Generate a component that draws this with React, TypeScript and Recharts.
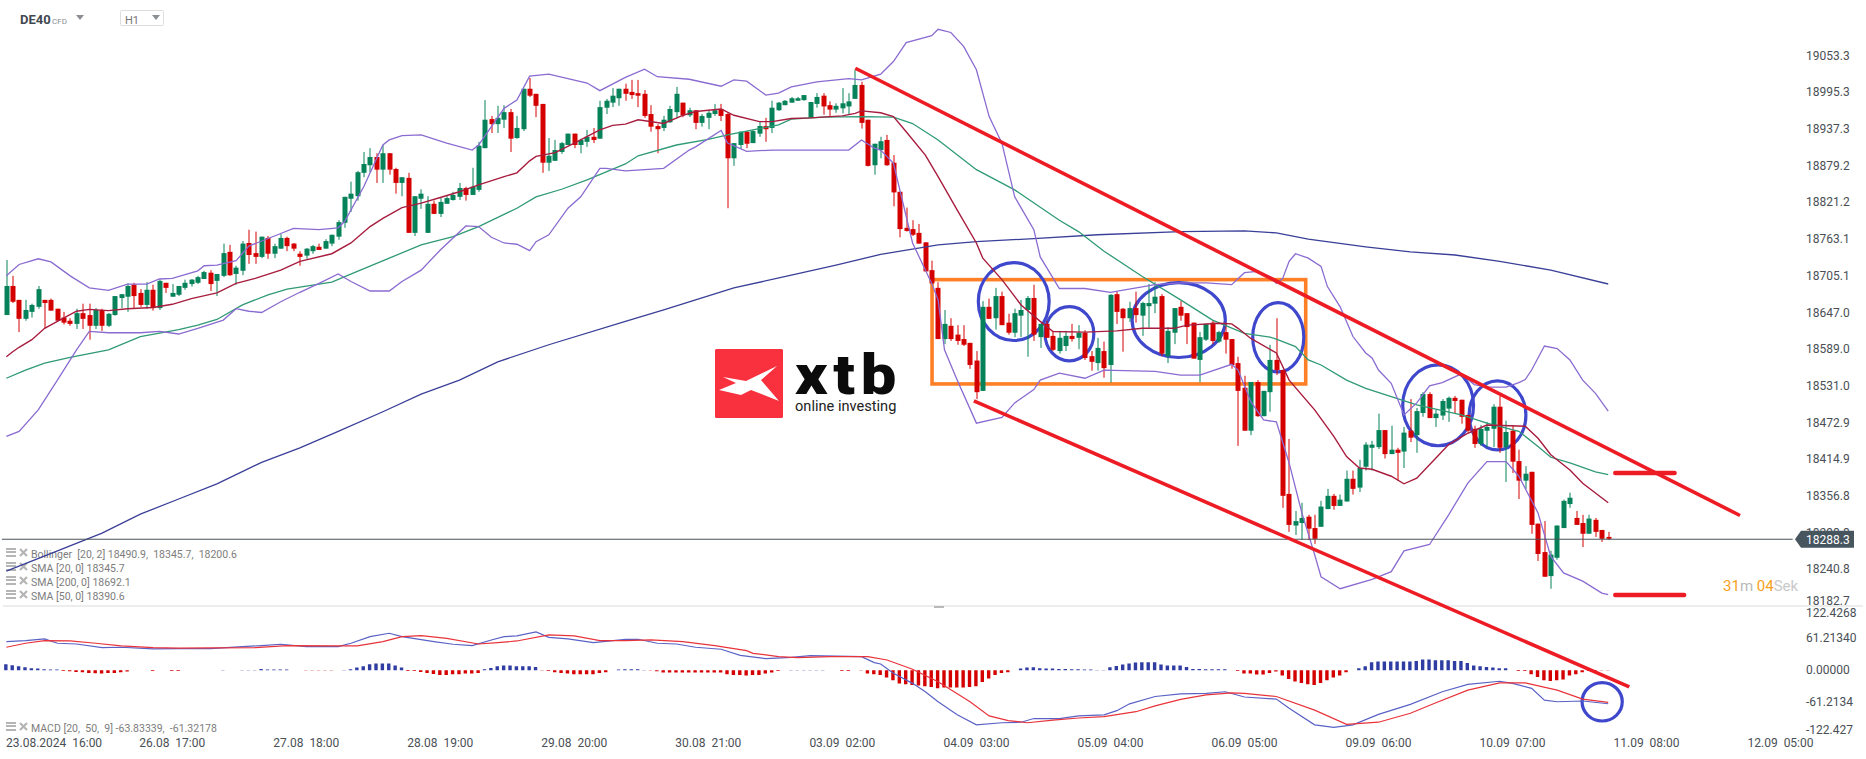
import React from "react";
import {
  ComposedChart,
  Bar,
  Line,
  Cell,
  XAxis,
  YAxis,
  ReferenceLine,
  ReferenceArea,
} from "recharts";

// H1 candles, one value per bar
const opens = [
  18643,18689,18667,18637,18648,18656,18667,18667,18653,18639,18634,18629,18646,18643,18626,18651,18626,18643,18670,18672,
  18691,18678,18659,18683,18654,18694,18672,18675,18686,18692,18694,18700,18710,18697,18705,18743,18708,18713,18757,18741,
  18735,18765,18740,18748,18765,18756,18740,18737,18744,18751,18748,18756,18767,18789,18827,18831,18868,18880,18893,18873,
  18899,18874,18852,18860,18773,18827,18773,18819,18803,18819,18825,18830,18844,18833,18841,18907,18953,18945,18952,18964,
  18923,18937,19001,18993,18977,18884,18887,18901,18912,18930,18912,18917,18925,18922,18971,18979,18986,19001,18996,18994,
  18993,18961,18942,18939,18948,18964,18979,18959,18967,18947,18955,18961,18969,18961,18891,18912,18933,18915,18930,18942,
  18939,18967,18975,18979,18982,18983,18955,18977,18990,18975,18968,18970,18973,18985,19007,18952,18880,18904,18920,18884,
  18838,18781,18779,18773,18758,18714,18686,18605,18626,18612,18605,18599,18571,18523,18656,18638,18673,18631,18615,18642,
  18651,18670,18608,18629,18610,18586,18594,18610,18607,18615,18578,18567,18586,18564,18676,18653,18638,18654,18642,18657,
  18661,18673,18578,18615,18656,18646,18631,18572,18604,18631,18601,18616,18605,18567,18528,18460,18537,18483,18521,18572,
  18556,18360,18310,18314,18324,18306,18308,18336,18357,18341,18348,18384,18370,18403,18433,18434,18461,18423,18430,18427,
  18460,18453,18488,18518,18480,18484,18495,18512,18509,18485,18463,18439,18460,18463,18498,18434,18460,18412,18381,18395,
  18313,18268,18230,18259,18306,18344,18322,18314,18297,18319,18303,18292,
];
const highs = [
  18730,18705,18667,18667,18661,18689,18667,18669,18653,18648,18638,18653,18661,18661,18654,18653,18646,18673,18676,18693,
  18694,18684,18695,18691,18699,18694,18692,18689,18699,18700,18705,18713,18714,18708,18756,18754,18721,18760,18778,18775,
  18767,18768,18756,18771,18767,18757,18744,18749,18754,18756,18763,18770,18793,18830,18854,18871,18901,18907,18899,18912,
  18899,18876,18861,18868,18831,18842,18831,18824,18828,18831,18838,18852,18846,18876,18917,18983,18958,18974,18975,18969,
  18958,19001,19018,18993,18977,18923,18920,18917,18930,18930,18922,18936,18939,18982,18985,19002,19001,19009,19015,19015,
  18999,18975,18945,18958,18974,19004,18979,18971,18967,18961,18966,18977,18977,18964,18915,18933,18934,18936,18950,18955,
  18982,18980,18983,18988,18988,18991,18980,18994,18994,18981,18978,19002,18994,19031,19012,18952,18914,18925,18928,18896,
  18838,18813,18793,18787,18758,18729,18695,18651,18638,18627,18627,18599,18586,18665,18669,18686,18680,18645,18653,18667,
  18673,18691,18629,18634,18618,18618,18618,18629,18627,18619,18586,18607,18601,18676,18680,18654,18664,18680,18664,18692,
  18695,18676,18624,18654,18665,18646,18631,18616,18629,18634,18618,18631,18605,18577,18547,18537,18540,18523,18596,18638,
  18556,18447,18333,18346,18327,18327,18349,18368,18360,18359,18397,18397,18414,18442,18444,18487,18461,18468,18433,18466,
  18510,18496,18521,18521,18493,18510,18514,18515,18509,18485,18468,18469,18474,18502,18515,18476,18468,18430,18404,18395,
  18313,18317,18270,18310,18351,18362,18333,18327,18327,18322,18303,18300,
];
const lows = [
  18643,18662,18616,18634,18639,18653,18622,18650,18634,18628,18626,18621,18621,18604,18621,18618,18624,18642,18654,18648,
  18653,18656,18653,18650,18651,18678,18672,18673,18683,18688,18692,18700,18681,18673,18703,18705,18691,18706,18724,18724,
  18733,18732,18733,18748,18744,18744,18721,18732,18740,18746,18748,18752,18762,18781,18806,18824,18861,18869,18852,18852,
  18865,18835,18831,18773,18768,18811,18773,18803,18798,18819,18824,18825,18824,18833,18838,18907,18931,18931,18939,18901,
  18922,18934,18988,18956,18868,18871,18887,18898,18912,18907,18899,18909,18915,18922,18961,18972,18974,18982,18985,18972,
  18955,18933,18899,18934,18947,18955,18956,18956,18937,18941,18937,18958,18950,18812,18879,18906,18907,18915,18925,18917,
  18931,18966,18975,18979,18982,18982,18955,18971,18960,18958,18963,18962,18960,18985,18938,18878,18865,18891,18879,18815,
  18766,18775,18768,18756,18712,18692,18605,18597,18602,18596,18594,18558,18510,18523,18637,18620,18627,18612,18608,18608,
  18577,18602,18591,18607,18586,18582,18586,18601,18589,18572,18555,18555,18544,18536,18629,18585,18632,18631,18610,18623,
  18646,18578,18567,18597,18634,18597,18574,18537,18602,18597,18599,18582,18558,18436,18460,18453,18482,18483,18490,18548,
  18338,18300,18295,18287,18287,18281,18308,18336,18335,18341,18348,18359,18363,18397,18397,18431,18416,18423,18381,18401,
  18442,18425,18482,18480,18466,18477,18474,18488,18471,18458,18433,18436,18434,18434,18425,18379,18393,18352,18368,18297,
  18254,18229,18210,18256,18306,18338,18311,18276,18297,18292,18284,18287,
];
const closes = [
  18689,18664,18637,18651,18659,18684,18662,18650,18634,18631,18629,18646,18637,18626,18651,18626,18645,18673,18676,18689,
  18673,18659,18683,18654,18697,18686,18678,18689,18694,18699,18703,18711,18692,18708,18741,18706,18718,18756,18738,18735,
  18767,18740,18752,18765,18752,18748,18735,18748,18752,18746,18760,18770,18790,18830,18835,18869,18882,18893,18873,18899,
  18873,18852,18861,18773,18831,18835,18819,18803,18822,18828,18833,18844,18833,18846,18911,18952,18945,18955,18964,18922,
  18939,19001,18990,18974,18884,18895,18904,18915,18930,18912,18920,18925,18920,18972,18982,18990,19001,18993,18991,18990,
  18958,18941,18937,18952,18969,18993,18959,18967,18947,18958,18963,18967,18958,18891,18915,18933,18914,18934,18942,18937,
  18971,18979,18982,18986,18986,18991,18980,18988,18973,18968,18974,18978,18981,19007,18947,18879,18914,18918,18880,18837,
  18779,18776,18770,18756,18712,18693,18605,18629,18605,18602,18596,18564,18521,18656,18637,18673,18627,18615,18646,18651,
  18670,18612,18629,18607,18588,18607,18610,18605,18615,18575,18569,18591,18559,18675,18648,18638,18654,18643,18662,18662,
  18672,18582,18618,18654,18642,18624,18574,18608,18629,18602,18616,18604,18564,18523,18460,18537,18483,18523,18572,18556,
  18357,18311,18317,18322,18305,18289,18340,18357,18341,18351,18384,18368,18401,18438,18438,18461,18423,18430,18425,18457,
  18449,18491,18518,18480,18487,18507,18512,18507,18482,18460,18439,18463,18466,18498,18433,18458,18411,18381,18392,18311,
  18265,18229,18264,18310,18349,18354,18311,18297,18321,18300,18289,18289,
];

// [bar index, price]
const bollingerUpper = [
  [0,18705],[2,18723],[5,18732],[7,18727],[10,18705],[13,18686],[16,18682],[19,18692],[22,18692],[24,18700],[26,18701],[30,18713],
  [31,18721],[33,18722],[36,18729],[38,18752],[43,18772],[45,18780],[49,18778],[52,18781],[53,18791],[56,18846],[59,18912],[60,18920],
  [62,18927],[65,18928],[69,18915],[73,18904],[74,18912],[78,18970],[80,18983],[82,19021],[85,19024],[91,19010],[93,18998],[97,19019],
  [100,19032],[102,19020],[107,19016],[112,19005],[114,19015],[116,19013],[119,18991],[121,18994],[123,19004],[127,19012],[132,19017],
  [134,19015],[137,19024],[139,19044],[141,19074],[145,19085],[146,19095],[148,19090],[150,19068],[152,19031],[154,18957],[156,18915],
  [158,18830],[161,18778],[162,18735],[165,18685],[169,18685],[173,18679],[180,18691],[184,18694],[188,18694],[192,18691],[194,18710],
  [196,18712],[198,18704],[199,18693],[200,18701],[201,18728],[202,18740],[204,18733],[206,18720],[207,18688],[209,18656],[211,18609],
  [213,18583],[214,18575],[215,18556],[217,18535],[219,18485],[221,18504],[223,18531],[225,18536],[228,18550],[230,18533],[232,18529],
  [235,18529],[237,18536],[238,18541],[239,18556],[241,18594],[243,18590],[245,18572],[247,18540],[249,18519],[251,18491],
];
const bollingerLower = [
  [0,18451],[2,18459],[5,18493],[8,18540],[11,18588],[13,18617],[16,18615],[21,18615],[24,18617],[27,18613],[30,18622],[34,18635],
  [36,18653],[38,18649],[40,18647],[43,18664],[46,18679],[49,18693],[52,18708],[54,18696],[57,18681],[60,18681],[62,18696],[65,18714],
  [68,18746],[72,18784],[74,18783],[76,18766],[78,18757],[80,18755],[82,18745],[83,18759],[85,18770],[88,18812],[90,18830],[93,18875],
  [94,18875],[97,18871],[103,18875],[107,18904],[108,18909],[112,18935],[113,18915],[116,18902],[120,18904],[132,18904],[134,18920],
  [136,18907],[137,18904],[139,18883],[140,18841],[142,18757],[145,18693],[146,18667],[147,18588],[149,18540],[152,18472],[156,18481],
  [158,18504],[161,18525],[162,18540],[165,18551],[169,18543],[172,18556],[180,18554],[184,18548],[187,18548],[192,18565],[193,18556],
  [195,18506],[197,18477],[199,18474],[201,18409],[203,18330],[205,18264],[206,18229],[209,18210],[214,18225],[217,18237],[219,18270],
  [223,18280],[226,18327],[229,18377],[232,18411],[235,18411],[237,18388],[240,18330],[242,18261],[244,18235],[247,18222],[250,18203],
  [251,18200.6],
];
const sma20 = [
  [0,18577],[1,18585],[2,18592],[4,18604],[6,18622],[8,18633],[11,18649],[13,18652],[16,18650],[19,18653],[23,18655],[26,18660],
  [29,18669],[33,18678],[36,18693],[39,18701],[43,18714],[46,18728],[51,18740],[54,18757],[57,18783],[59,18796],[62,18813],[65,18820],
  [68,18829],[71,18838],[74,18849],[78,18862],[80,18868],[82,18887],[83,18894],[86,18900],[89,18915],[93,18936],[95,18943],[97,18945],
  [99,18952],[103,18946],[106,18959],[108,18965],[112,18969],[114,18959],[118,18949],[120,18949],[123,18954],[126,18955],[131,18958],
  [133,18962],[134,18966],[137,18963],[139,18957],[141,18933],[144,18896],[146,18862],[149,18809],[152,18757],[153,18733],[156,18699],
  [159,18659],[162,18633],[164,18617],[169,18616],[174,18618],[178,18622],[183,18622],[185,18627],[190,18630],[192,18629],[193,18622],
  [195,18606],[199,18583],[201,18540],[205,18493],[208,18451],[210,18419],[212,18401],[214,18399],[217,18388],[219,18376],[221,18385],
  [224,18417],[226,18438],[229,18456],[232,18469],[238,18467],[240,18448],[242,18422],[245,18398],[247,18377],[251,18346],
];
const sma50 = [
  [0,18543],[3,18556],[6,18567],[10,18576],[16,18588],[21,18609],[27,18620],[30,18627],[33,18636],[37,18659],[41,18675],[44,18684],
  [51,18695],[55,18712],[60,18733],[65,18754],[70,18767],[74,18783],[80,18812],[83,18830],[87,18842],[91,18857],[97,18882],[99,18895],
  [105,18912],[110,18921],[113,18928],[117,18936],[121,18944],[123,18953],[128,18956],[134,18957],[139,18956],[142,18946],[146,18920],
  [152,18873],[158,18841],[165,18793],[168,18775],[172,18744],[178,18704],[184,18667],[189,18635],[194,18614],[198,18608],[199,18605],
  [202,18593],[204,18572],[206,18564],[210,18540],[213,18527],[217,18514],[221,18501],[228,18485],[232,18472],[237,18459],[240,18435],
  [242,18418],[245,18409],[249,18395],[251,18390.6],
];
const sma200 = [
  [0,18238],[9,18274],[15,18298],[21,18328],[27,18352],[33,18376],[40,18410],[46,18433],[52,18459],[59,18490],[65,18518],[71,18540],
  [77,18569],[85,18596],[97,18633],[103,18651],[108,18667],[114,18686],[123,18706],[130,18722],[137,18739],[146,18754],[152,18759],
  [161,18764],[171,18770],[184,18775],[194,18776],[199,18773],[204,18763],[213,18751],[220,18743],[227,18738],[234,18728],[242,18714],
  [251,18692.1],
];

// MACD panel, [bar index, value]
const macdLine = [
  [0,54.6],[3,56.5],[6,59.7],[8,51.4],[11,50],[15,43],[18,43.8],[23,40.6],[27,41.2],[32,41.2],[37,45],[40,47],[43,49.5],[47,45],
  [52,45],[54,51.4],[57,64],[60,70.5],[62,64],[67,54.6],[70,49.5],[73,47],[76,57.7],[78,64],[80,65.4],[83,73],[85,62.8],[88,59.7],
  [92,52.6],[97,59],[99,59],[102,51.4],[105,50],[108,43.8],[112,40],[115,28.5],[119,22],[123,24.7],[126,27.9],[134,26],[136,14.5],
  [137,12],[139,-5.8],[142,-25],[144,-41],[146,-60],[149,-85],[152,-104],[156,-100],[159,-99],[161,-92],[165,-92],[168,-87],[172,-85],
  [174,-77],[176,-64],[180,-50],[184,-45],[188,-44],[191,-41],[194,-51],[199,-55],[201,-72.6],[205,-104],[208,-109],[211,-104],[215,-84],
  [220,-65],[225,-41],[229,-27],[234,-21],[236,-25],[239,-34.4],[241,-57],[243,-60],[247,-58.6],[251,-63.8],
];
const macdSignal = [
  [0,43.8],[3,51.4],[6,56.5],[10,55.8],[14,51.4],[18,46.3],[23,43],[27,42],[32,42.5],[39,43],[44,47],[52,46.3],[55,46.3],[59,54.6],
  [62,64],[65,66],[69,60.9],[74,50],[77,52.6],[80,55.8],[85,67.3],[89,65.4],[93,56.5],[97,56.5],[101,57.7],[106,54.6],[111,47],[116,37.4],
  [117,32.3],[121,26],[124,24],[129,26],[135,26],[138,19.6],[142,1.8],[146,-22],[151,-60],[154,-87],[157,-96],[160,-100],[164,-95],
  [168,-91],[172,-88.4],[177,-79],[180,-68],[184,-55.4],[188,-47],[192,-43],[194,-44],[199,-50],[205,-76],[210,-103],[215,-99],[220,-82],
  [224,-62],[229,-38],[234,-24],[238,-24],[243,-38],[247,-55],[251,-61.3],
];
const macdHist = [
  11.4,9.5,7.6,5.7,3.8,3.2,1.9,1.3,1.3,-1.3,-1.9,-3.2,-3.8,-5.1,-5.7,-6.4,-5.1,-5.1,-3.8,-2.5,
  0,0,0,-1.3,0,0,-1.3,-1.3,0,0,0,0,0,0,0.6,0,0,0.6,0.6,0.6,
  2.5,1.3,1.3,1.3,1.3,0,0,-0.6,-0.6,-0.6,-0.6,-0.6,0,0.6,1.9,5.1,7.6,11.4,12.7,12.7,
  12.7,8.9,5.1,-1.3,-1.3,-3.2,-5.1,-7,-8.9,-8.9,-7.6,-7.6,-6.4,-6.4,-5.1,1.9,4.4,7.6,8.9,8.9,
  7.6,7.6,7.6,6.4,-0.6,-1.3,-3.8,-5.1,-6.4,-7.6,-7.6,-7.6,-7.6,-5.1,-3.8,0,1.3,1.9,1.9,1.9,
  0.6,-0.6,-1.9,-4.4,-4.4,-4.4,-4.4,-4.4,-4.4,-4.4,-4.4,-4.4,-4.4,-7.6,-8.9,-8.9,-10.2,-8.9,-8.9,-6.4,
  -4.4,-1.3,0,0.6,0.6,0.6,0.6,0.6,0.6,0,0,-1.3,-1.3,0,-0.6,-6.4,-7.6,-8.9,-14,-19.1,
  -25.4,-26.7,-28,-29.2,-30.5,-31.8,-34.3,-33,-33,-33,-33,-31.8,-30.5,-22.2,-15.9,-8.9,-5.1,-3.8,0,3.2,
  5.1,5.7,3.8,3.2,3.2,2.5,2.5,1.9,1.9,1.3,1.3,0.6,0.6,5.7,8.3,10.8,12.7,14.6,15.3,15.3,
  15.3,10.8,8.9,8.9,8.9,6.4,2.5,2.5,1.9,1.9,1.9,1.9,0,-1.3,-6.4,-6.4,-8.3,-8.3,-5.1,-2.5,
  -10.2,-16.5,-21.6,-24.2,-26.7,-28,-24.2,-19.1,-14,-10.2,-3.8,0,3.8,7.6,15.3,16.5,16.5,16.5,16.5,16.5,
  16.5,17.8,20.3,20.3,19.1,19.1,19.1,17.8,17.8,14,8.9,7.6,6.4,5.1,3.8,3.8,0,-1.3,-1.3,-7.6,
  -12.7,-19.1,-20.3,-19.1,-17.8,-10.2,-7.6,-3.8,-1.3,-1.3,-0.6,-0.6,
];

const priceTicks = [19053.3,18995.3,18937.3,18879.2,18821.2,18763.1,18705.1,18647.0,18589.0,18531.0,18472.9,18414.9,18356.8,18298.8,18240.8,18182.7];
const lastPrice = 18288.3;
const macdTicks = [122.4268,61.2134,0,-61.2134,-122.427];
const macdTickLabels = ["122.4268","61.21340","0.00000","-61.2134","-122.427"];
const timeTicks = [5,26,47,68,89,110,131,152,173,194,215,236,257,278];
const timeLabels = [
  "23.08.2024\u00a0\u00a016:00","26.08\u00a0\u00a017:00","27.08\u00a0\u00a018:00","28.08\u00a0\u00a019:00","29.08\u00a0\u00a020:00",
  "30.08\u00a0\u00a021:00","03.09\u00a0\u00a002:00","04.09\u00a0\u00a003:00","05.09\u00a0\u00a004:00","06.09\u00a0\u00a005:00",
  "09.09\u00a0\u00a006:00","10.09\u00a0\u00a007:00","11.09\u00a0\u00a008:00","12.09\u00a0\u00a005:00",
];
const legendRows = [
  "Bollinger\u00a0\u00a0[20,\u00a02] 18490.9,\u00a0\u00a018345.7,\u00a0\u00a018200.6",
  "SMA [20,\u00a00] 18345.7",
  "SMA [200,\u00a00] 18692.1",
  "SMA [50,\u00a00] 18390.6",
];

// drawings on the chart, in bar index / price
const trendLines = [
  [133.03,19033.4,271.65,18325.9],
  [151.6,18507.3,254.3,18054.6],
];
const levelLines = [
  [252.1,261.4,18393],
  [252.1,262.9,18200],
];
const priceBox = [145.05,203.6,18699,18534];
const priceEllipses = [
  [152.3,163.4,18726,18602.7],
  [162.75,170.4,18656.4,18570.6],
  [176.4,191,18694.4,18575.8],
  [195.3,203.3,18662.7,18553],
  [218.8,229.9,18564.2,18436.2],
  [229.2,238.1,18538.9,18429.8],
];
const macdEllipse = [246.9,253.2,-23.6,-96.7];

const WIDTH = 1866;
const HEIGHT = 759;
const PANEL_TOP = 606;
const MACD_PLOT = 128.5;
const FONT = "Roboto, sans-serif";
const xDomain: [number, number] = [-0.992, 281.05];

const GREEN = "#06825a";
const RED = "#d40000";
const TEXT = "#4a4f55";

const points = (list: number[][]) => list.map(([i, v]) => ({ i, v }));

const priceRows = opens.map((o, i) => ({ i, o, h: highs[i], l: lows[i], c: closes[i] }));
const macdRows = macdHist.map((hist, i) => ({ i, hist }));

function Candle(props: any) {
  const { x, y, width, height, payload } = props;
  const { o, h, l, c } = payload;
  const unit = h > l ? height / (h - l) : 0;
  const up = c >= o;
  const color = up ? GREEN : RED;
  const cx = Math.round(x + width / 2);
  const top = y + (h - Math.max(o, c)) * unit;
  const bodyH = Math.max(Math.abs(o - c) * unit, 1);
  return (
    <g>
      <line x1={cx} x2={cx} y1={y} y2={y + height} stroke={color} strokeWidth={1} />
      <rect x={cx - 2.5} y={top} width={5} height={bodyH} fill={color} />
    </g>
  );
}

function PriceTick({ x, y, payload }: any) {
  const v = payload.value;
  if (v === lastPrice) {
    return (
      <g>
        <polygon
          points={`${x - 5},${y} ${x + 1},${y - 8.5} ${x + 54},${y - 8.5} ${x + 54},${y + 8.5} ${x + 1},${y + 8.5}`}
          fill="#47555f"
        />
        <text x={x + 6} y={y + 0.5} dominantBaseline="central" fontFamily={FONT} fontSize={12} fill="#fff">
          {v.toFixed(1)}
        </text>
      </g>
    );
  }
  const dy = v === 18182.7 ? -4.6 : 0;
  return (
    <text x={x + 6} y={y + dy} dominantBaseline="central" fontFamily={FONT} fontSize={12} fill={TEXT}>
      {v.toFixed(1)}
    </text>
  );
}

function MacdTick({ x, y, payload }: any) {
  const idx = macdTicks.indexOf(payload.value);
  let dy = 0;
  if (idx === 0) dy = 7;
  if (idx === macdTicks.length - 1) dy = -4.8;
  return (
    <text x={x + 6} y={y + dy} dominantBaseline="central" fontFamily={FONT} fontSize={12} fill={TEXT}>
      {macdTickLabels[idx]}
    </text>
  );
}

function TimeTick({ x, y, payload }: any) {
  const idx = timeTicks.indexOf(payload.value);
  return (
    <text
      x={idx === 0 ? 6 : x}
      y={y + 8}
      textAnchor={idx === 0 ? "start" : "middle"}
      dominantBaseline="central"
      fontFamily={FONT}
      fontSize={12}
      fill={TEXT}
    >
      {timeLabels[idx]}
    </text>
  );
}

function Ellipse({ x, y, width, height }: any) {
  return (
    <ellipse
      cx={x + width / 2}
      cy={y + height / 2}
      rx={width / 2}
      ry={height / 2}
      fill="none"
      stroke="#3f48cc"
      strokeWidth={3.2}
    />
  );
}

function Box({ x, y, width, height }: any) {
  return <rect x={x} y={y} width={width} height={height} fill="none" stroke="#ff7f27" strokeWidth={3.6} />;
}

function Overlay() {
  return (
    <svg width={WIDTH} height={HEIGHT} style={{ position: "absolute", left: 0, top: 0 }}>
      <text x={20} y={24} fontFamily={FONT} fontSize={13} fontWeight={700} fill="#3f4850">DE40</text>
      <text x={52} y={24} fontFamily={FONT} fontSize={8} fill="#8a8f94">CFD</text>
      <polygon points="76,15 84,15 80,20" fill="#8a8f94" />
      <rect x={120.5} y={10.5} width={43} height={15} rx={1} fill="#fff" stroke="#dedede" />
      <text x={125} y={24} fontFamily={FONT} fontSize={11} fill="#777">H1</text>
      <polygon points="152,15 160,15 156,20" fill="#8a8f94" />

      {legendRows.map((row, n) => (
        <g key={row}>
          <rect x={6} y={548 + n * 14} width={10} height={2} fill="#b5b5b5" />
          <rect x={6} y={551 + n * 14} width={10} height={2} fill="#b5b5b5" />
          <rect x={6} y={555 + n * 14} width={10} height={2} fill="#b5b5b5" />
          <path
            d={`M20 ${549 + n * 14} L27 ${556 + n * 14} M27 ${549 + n * 14} L20 ${556 + n * 14}`}
            stroke="#b5b5b5"
            strokeWidth={2.2}
          />
          <text x={31} y={554 + n * 14} dominantBaseline="central" fontFamily={FONT} fontSize={10.5} fill="#7d7d7d">
            {row}
          </text>
        </g>
      ))}
      <rect x={6} y={722} width={10} height={2} fill="#b5b5b5" />
      <rect x={6} y={725} width={10} height={2} fill="#b5b5b5" />
      <rect x={6} y={729} width={10} height={2} fill="#b5b5b5" />
      <path d="M20 723 L27 730 M27 723 L20 730" stroke="#b5b5b5" strokeWidth={2.2} />
      <text x={31} y={728} dominantBaseline="central" fontFamily={FONT} fontSize={10.5} fill="#7d7d7d">
        {"MACD\u00a0[20,\u00a0\u00a050,\u00a0\u00a09] -63.83339,\u00a0\u00a0-61.32178"}
      </text>

      <rect x={715} y={349} width={68} height={69} rx={1.5} fill="#f9313f" />
      <polygon
        points="723,377 746,381 777,366 761,380 779,401 751,390 741,395 719,390 736,383"
        fill="#fff"
      />
      <text
        transform="translate(795 394) scale(1.13 1)"
        fontFamily={FONT}
        fontSize={56}
        fontWeight={900}
        letterSpacing={5}
        fill="#0b0b0b"
      >
        xtb
      </text>
      <text x={795} y={411} fontFamily={FONT} fontSize={14.6} fill="#222">online investing</text>

      <text x={1723} y={586} dominantBaseline="central" fontFamily={FONT} fontSize={15}>
        <tspan fill="#f7a11a">31</tspan>
        <tspan fill="#b9b9b9">m </tspan>
        <tspan fill="#f7a11a">04</tspan>
        <tspan fill="#c9c9c9">Sek</tspan>
      </text>

      <rect x={3} y={605.5} width={1860} height={1} fill="#dcdcdc" />
      <rect x={934} y={606} width={10} height={2} fill="#b9b9b9" />
    </svg>
  );
}

export default function App() {
  return (
    <div style={{ position: "absolute", left: 0, top: 0, width: WIDTH, height: HEIGHT, background: "#fff", overflow: "hidden" }}>
      <Overlay />

      {/* MACD panel with the time axis */}
      <div style={{ position: "absolute", left: 0, top: PANEL_TOP }}>
        <ComposedChart
          width={WIDTH}
          height={HEIGHT - PANEL_TOP}
          data={macdRows}
          margin={{ top: 0, right: 0, left: 0, bottom: 0 }}
        >
          <XAxis
            dataKey="i"
            type="number"
            domain={xDomain}
            ticks={timeTicks}
            interval={0}
            axisLine={false}
            tickLine={false}
            tickSize={0}
            tickMargin={0}
            height={HEIGHT - PANEL_TOP - MACD_PLOT}
            tick={<TimeTick />}
          />
          <YAxis
            orientation="right"
            type="number"
            domain={[-122.4268, 122.4268]}
            allowDataOverflow
            ticks={macdTicks}
            interval={0}
            width={66}
            axisLine={false}
            tickLine={false}
            tickSize={0}
            tickMargin={0}
            tick={<MacdTick />}
          />
          <Bar dataKey="hist" barSize={3.4} isAnimationActive={false}>
            {macdHist.map((v, i) => (
              <Cell key={i} fill={v >= 0 ? "#2f3da3" : RED} />
            ))}
          </Bar>
          <Line data={points(macdLine)} dataKey="v" stroke="#5a62c6" strokeWidth={1.2} dot={false} activeDot={false} isAnimationActive={false} />
          <Line data={points(macdSignal)} dataKey="v" stroke="#e8333a" strokeWidth={1.2} dot={false} activeDot={false} isAnimationActive={false} />
          <ReferenceArea
            x1={macdEllipse[0]}
            x2={macdEllipse[1]}
            y1={macdEllipse[2]}
            y2={macdEllipse[3]}
            ifOverflow="visible"
            shape={<Ellipse />}
          />
        </ComposedChart>
      </div>

      {/* Price panel, its svg runs on under the panel so the lower channel line can cross */}
      <div style={{ position: "absolute", left: 0, top: 0 }}>
        <ComposedChart
          width={WIDTH}
          height={HEIGHT}
          data={priceRows}
          margin={{ top: 0, right: 0, left: 0, bottom: HEIGHT - PANEL_TOP }}
        >
          <XAxis dataKey="i" type="number" domain={xDomain} hide />
          <YAxis
            orientation="right"
            type="number"
            domain={[18182.7, 19141.4]}
            allowDataOverflow
            ticks={[...priceTicks, lastPrice]}
            interval={0}
            width={66}
            axisLine={false}
            tickLine={false}
            tickSize={0}
            tickMargin={0}
            tick={<PriceTick />}
          />
          <Line data={points(sma200)} dataKey="v" stroke="#3a3f98" strokeWidth={1.3} dot={false} activeDot={false} isAnimationActive={false} />
          <Line data={points(sma50)} dataKey="v" stroke="#2f9a75" strokeWidth={1.3} dot={false} activeDot={false} isAnimationActive={false} />
          <Bar
            dataKey={(d: any) => [d.l, d.h]}
            barSize={5}
            shape={<Candle />}
            isAnimationActive={false}
          />
          <Line data={points(bollingerUpper)} dataKey="v" stroke="#8a6bd1" strokeWidth={1.3} dot={false} activeDot={false} isAnimationActive={false} />
          <Line data={points(bollingerLower)} dataKey="v" stroke="#8a6bd1" strokeWidth={1.3} dot={false} activeDot={false} isAnimationActive={false} />
          <Line data={points(sma20)} dataKey="v" stroke="#a81c3e" strokeWidth={1.4} dot={false} activeDot={false} isAnimationActive={false} />

          <ReferenceLine
            segment={[{ x: -0.7, y: lastPrice }, { x: 279.9, y: lastPrice }]}
            stroke="#4a525a"
            strokeWidth={1}
            ifOverflow="visible"
          />
          <ReferenceArea
            x1={priceBox[0]}
            x2={priceBox[1]}
            y1={priceBox[2]}
            y2={priceBox[3]}
            ifOverflow="visible"
            shape={<Box />}
          />
          {priceEllipses.map((e, n) => (
            <ReferenceArea key={n} x1={e[0]} x2={e[1]} y1={e[2]} y2={e[3]} ifOverflow="visible" shape={<Ellipse />} />
          ))}
          {trendLines.map((t, n) => (
            <ReferenceLine
              key={n}
              segment={[{ x: t[0], y: t[1] }, { x: t[2], y: t[3] }]}
              stroke="#ed1c24"
              strokeWidth={3.6}
              ifOverflow="visible"
            />
          ))}
          {levelLines.map((t, n) => (
            <ReferenceLine
              key={n}
              segment={[{ x: t[0], y: t[2] }, { x: t[1], y: t[2] }]}
              stroke="#ed1c24"
              strokeWidth={4.4}
              strokeLinecap="round"
              ifOverflow="visible"
            />
          ))}
        </ComposedChart>
      </div>
    </div>
  );
}
